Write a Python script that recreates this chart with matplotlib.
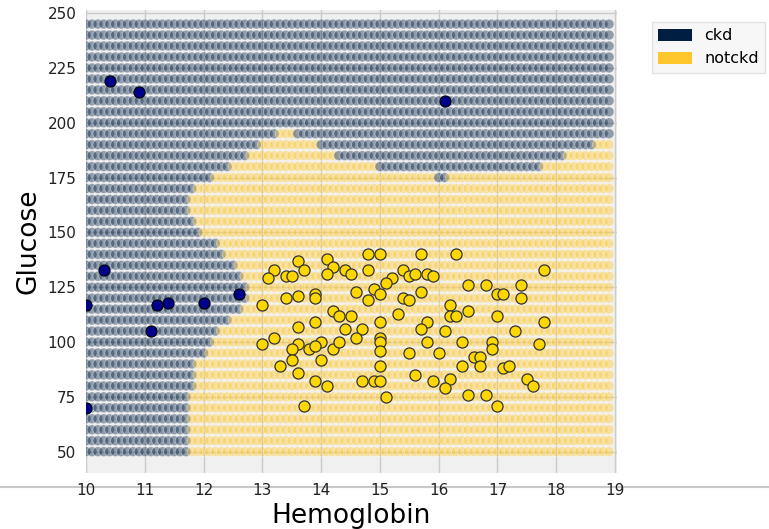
import numpy as np
import matplotlib
matplotlib.use('Agg')
from matplotlib import pyplot as plt
from matplotlib.patches import Patch
from matplotlib.lines import Line2D

# test grid: hemoglobin 10.0 .. 18.9, glucose 50 .. 245
grid_hemo = np.round(np.arange(10, 19, 0.1), 1)
grid_gluc = np.arange(50, 250, 5)

# right end of the ckd region on the left, per glucose row (bottom to top)
left_ckd_max = [11.7, 11.7, 11.7, 11.7, 11.7, 11.7, 11.8, 11.8, 11.8, 12.0,
                12.1, 12.2, 12.4, 12.6, 12.7, 12.7, 12.6, 12.5, 12.3, 12.2,
                11.9, 11.8, 11.7, 11.7, 11.8, 12.1, 12.4, 12.7, 12.9, 13.2,
                18.9, 18.9, 18.9, 18.9, 18.9, 18.9, 18.9, 18.9, 18.9, 18.9]
# extra ckd stretch of the upper region (glucose: hemo from, hemo to)
upper_ckd = {175: (16.0, 16.1), 180: (15.0, 17.7), 185: (14.3, 18.1),
             190: (14.0, 18.6), 195: (13.6, 18.9)}

# training points
ckd_hemo = [10.4, 10.9, 16.1, 10.3, 10.0, 11.2, 11.4, 12.0, 12.6, 11.1, 10.0]
ckd_gluc = [219, 214, 210, 133, 117, 117, 118, 118, 122, 105, 70]

notckd_hemo = [13.2, 13.1, 13.4, 13.5, 13.6, 13.7, 13.9, 13.9, 13.4, 13.6,
               13.0, 13.9, 13.6, 13.2, 13.0, 13.6, 13.5, 13.8, 13.5, 14.0,
               13.3, 13.6, 13.9, 13.7, 14.1, 14.2, 14.1, 14.4, 14.5, 14.8,
               15.0, 14.8, 15.7, 16.3, 15.4, 15.5, 15.6, 15.8, 15.9, 15.2,
               15.1, 16.5, 16.8, 17.4, 17.8, 14.6, 14.9, 15.0, 14.8, 15.7,
               15.4, 15.5, 17.0, 17.1, 17.4, 16.2, 16.2, 16.3, 16.5, 17.0,
               15.3, 14.2, 14.3, 14.5, 14.4, 14.7, 14.6, 15.0, 15.8, 15.7,
               16.1, 17.3, 17.8, 15.0, 15.0, 15.0, 15.0, 14.0, 13.9, 14.2,
               14.3, 15.8, 16.4, 16.9, 16.9, 17.7, 15.5, 16.0, 16.6, 16.7,
               16.7, 16.4, 17.1, 17.2, 15.6, 14.7, 14.9, 15.0, 14.1, 15.9,
               16.2, 16.1, 17.5, 17.6, 16.5, 16.8, 15.1, 17.0]
notckd_gluc = [133, 129, 130, 130, 137, 133, 122, 120, 120, 121,
               117, 109, 107, 102, 99, 99, 97, 97, 92, 92,
               89, 86, 82, 71, 138, 134, 131, 133, 131, 140,
               140, 133, 140, 140, 133, 130, 131, 131, 130, 129,
               127, 126, 126, 126, 133, 123, 124, 122, 119, 123,
               120, 119, 122, 122, 120, 117, 112, 112, 114, 112,
               113, 114, 112, 112, 106, 106, 102, 109, 109, 106,
               105, 105, 109, 102, 100, 96, 89, 100, 98, 97,
               100, 100, 100, 100, 97, 99, 95, 95, 93, 93,
               89, 89, 88, 89, 85, 82, 82, 82, 80, 82,
               83, 79, 83, 80, 76, 76, 75, 71]

ckd_col = (0.0, 30 / 256, 66 / 256)
notckd_col = (1.0, 200 / 256, 44 / 256)

gx, gy, gc = [], [], []
for i, g in enumerate(grid_gluc):
    for h in grid_hemo:
        is_ckd = h <= left_ckd_max[i] + 1e-9
        if g in upper_ckd:
            lo, hi = upper_ckd[g]
            if lo - 1e-9 <= h <= hi + 1e-9:
                is_ckd = True
        gx.append(h)
        gy.append(g)
        gc.append(ckd_col if is_ckd else notckd_col)

fig = plt.figure(figsize=(7.69, 5.29), dpi=100)
ax = fig.add_axes([0.112, 0.106, 0.690, 0.875])
ax.set_facecolor('#f0f0f0')
ax.set_axisbelow(True)
ax.grid(True, color='#cbcbcb', linewidth=1)
for s in ax.spines.values():
    s.set_visible(False)

ax.scatter(gx, gy, c=gc, alpha=0.4, s=50, edgecolors='white', linewidths=0.6)
ax.scatter(ckd_hemo, ckd_gluc, c='darkblue', s=64, edgecolors='k', linewidths=0.8, zorder=3)
ax.scatter(notckd_hemo, notckd_gluc, c='gold', s=64, edgecolors='#333333', linewidths=0.9, zorder=3)

ax.set_xlim(10, 19.03)
ax.set_ylim(40.3, 251.4)
ax.set_xticks(range(10, 20))
ax.set_yticks(range(50, 251, 25))
ax.tick_params(length=0, labelsize=11, colors='#222222', pad=7)
ax.set_xlabel('Hemoglobin', fontsize=19)
ax.set_ylabel('Glucose', fontsize=19)

leg = ax.legend(handles=[Patch(facecolor=ckd_col, label='ckd'),
                         Patch(facecolor=notckd_col, label='notckd')],
                loc='upper left', bbox_to_anchor=(1.066, 0.974), borderaxespad=0,
                fontsize=11.5, handlelength=2.1, handleheight=0.75,
                frameon=True, fancybox=False)
leg.get_frame().set_facecolor('#f5f5f5')
leg.get_frame().set_edgecolor('#dddddd')

fig.add_artist(Line2D([0, 1], [1 - 487 / 529, 1 - 487 / 529], color='#c8c8c8',
                      linewidth=1.5, zorder=-1))

fig.savefig('out.png', dpi=100, facecolor='white')
